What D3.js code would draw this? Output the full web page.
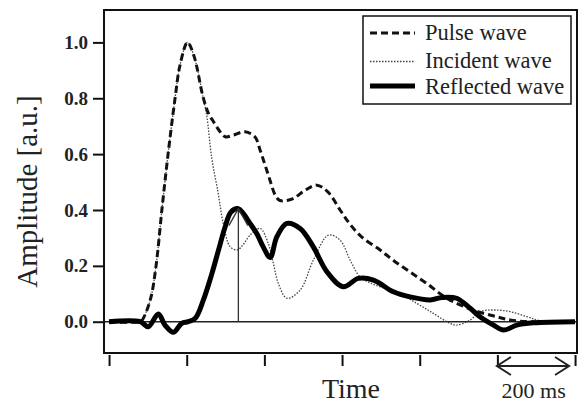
<!DOCTYPE html>
<html lang="en">
<head>
<meta charset="UTF-8">
<title>Pulse wave separation</title>
<script src="https://cdn.jsdelivr.net/npm/d3@7"></script>
<style>
    body{ margin:0; background:#fff; }
    svg{ display:block; font-family:"Liberation Serif","Times New Roman",serif; }
    .frame{ fill:none; stroke:#111; stroke-width:2; }
    .yAxis text{ font-size:19px; font-weight:bold; fill:#222; font-family:"Liberation Serif",serif; }
    .yAxis line, .xAxis line{ stroke:#111; stroke-width:2; }
    .pulse{ fill:none; stroke:#111; stroke-width:3; stroke-dasharray:7,4; }
    .incident{ fill:none; stroke:#444; stroke-width:1.3; stroke-dasharray:1.5,1.5; }
    .reflected{ fill:none; stroke:#000; stroke-width:5; stroke-linejoin:round; }
    .zero{ stroke:#222; stroke-width:1.5; }
    .marker{ fill:none; stroke:#333; stroke-width:1.3; }
</style>
</head>
<body>
<div id="root"></div>
<script>
    // time [ms], amplitude [a.u.]
    const pulseWave = [
        [0,0],[80,0],[85,0.005],[106,0.077],[121,0.2],[136,0.4],[152,0.6],[170,0.8],[183,0.92],
        [202,1.0],[219,0.95],[242,0.805],[256,0.746],[269,0.716],[286,0.68],[299,0.662],[320,0.668],
        [350,0.68],[376,0.661],[389,0.614],[402,0.56],[415,0.504],[428,0.453],[440,0.434],[474,0.441],
        [505,0.471],[535,0.489],[564,0.464],[595,0.4],[620,0.35],[651,0.303],[698,0.257],[731,0.221],
        [775,0.178],[818,0.137],[870,0.084],[937,0.042],[998,0.018],[1033,0.006],[1084,0],[1200,0]
    ]
    const incidentWave = [
        [0,0],[80,0],[85,0.005],[106,0.077],[121,0.2],[136,0.4],[152,0.6],[170,0.8],[183,0.92],
        [202,1.0],[219,0.95],[242,0.805],[252,0.734],[264,0.59],[281,0.46],[294,0.352],[312,0.268],
        [330,0.257],[345,0.275],[363,0.31],[389,0.334],[410,0.28],[423,0.209],[436,0.137],[458,0.084],
        [492,0.113],[526,0.22],[565,0.31],[595,0.292],[621,0.22],[646,0.161],[672,0.139],[698,0.125],
        [732,0.113],[792,0.066],[835,0.03],[878,-0.006],[895,-0.012],[930,0.006],[955,0.036],
        [990,0.042],[1033,0.036],[1076,0.018],[1110,0.004],[1200,0]
    ]
    const reflectedWave = [
        [0,0],[80,0],[101,-0.018],[127,0.028],[144,-0.012],[166,-0.038],[187,-0.006],[204,0],
        [222,0.012],[243,0.078],[265,0.173],[282,0.257],[299,0.34],[314,0.393],[333,0.405],[345,0.389],
        [363,0.352],[381,0.314],[397,0.268],[415,0.23],[432,0.304],[458,0.352],[492,0.334],[526,0.268],
        [561,0.179],[603,0.125],[642,0.155],[681,0.149],[732,0.107],[775,0.089],[827,0.078],[857,0.087],
        [895,0.084],[930,0.048],[955,0.018],[990,-0.012],[1016,-0.03],[1050,-0.012],[1093,-0.004],[1200,0]
    ]
    const yTicks = [0, 0.2, 0.4, 0.6, 0.8, 1.0]
    const xTicks = [0, 200, 400, 600, 800, 1000, 1200]
    const legendNames = ['Pulse wave', 'Incident wave', 'Reflected wave']

    const width = 579, height = 405
    const plotLeft = 104, plotRight = 577, plotTop = 10, plotBottom = 353   // plot frame

    let svg = d3.select('#root').append('svg').attr('width', width).attr('height', height)

    const xScale = d3.scaleLinear().domain([-13, 1205]).range([plotLeft, plotRight])
    const yScale = d3.scaleLinear().domain([-0.112, 1.116]).range([plotBottom, plotTop])

    const line = d3.line()
        .x(d => xScale(d[0]))
        .y(d => yScale(d[1]))
        .curve(d3.curveCatmullRom.alpha(0.5))

    const renderAxes = () => {
        // y axis, ticks outside the frame
        const yAxis = d3.axisLeft(yScale).tickValues(yTicks).tickFormat(d3.format('.1f'))
            .tickSize(11).tickPadding(5)
        svg.append('g').attr('class', 'yAxis')
            .attr('transform', `translate(${plotLeft},0)`)
            .call(yAxis)
            .call(g => g.select('.domain').remove())
            .call(g => g.selectAll('text').attr('font-family', null).attr('font-size', null))

        // x axis: only ticks, a little below the frame
        const xAxis = d3.axisBottom(xScale).tickValues(xTicks).tickFormat('').tickSize(11)
        svg.append('g').attr('class', 'xAxis')
            .attr('transform', `translate(0,${plotBottom + 2})`)
            .call(xAxis)
            .call(g => g.select('.domain').remove())

        svg.append('text')
            .attr('transform', `translate(37,${(plotTop + plotBottom) / 2 + 10}) rotate(-90)`)
            .attr('text-anchor', 'middle')
            .attr('font-size', 29).attr('fill', '#222')
            .text('Amplitude [a.u.]')

        svg.append('text')
            .attr('x', 351).attr('y', 398)
            .attr('text-anchor', 'middle')
            .attr('font-size', 28).attr('fill', '#222')
            .text('Time')
    }

    const renderLines = () => {
        svg.append('line').attr('class', 'zero')
            .attr('x1', plotLeft).attr('x2', plotRight)
            .attr('y1', yScale(0)).attr('y2', yScale(0))

        svg.append('path').datum(incidentWave).attr('class', 'incident').attr('d', line)
        svg.append('path').datum(pulseWave).attr('class', 'pulse').attr('d', line)
        svg.append('path').datum(reflectedWave).attr('class', 'reflected').attr('d', line)

        // arrow to the reflected wave peak
        const peak = reflectedWave.reduce((a, b) => b[1] > a[1] ? b : a)
        const px = xScale(peak[0]), py = yScale(peak[1])
        svg.append('path').attr('class', 'marker')
            .attr('d', `M${px},${yScale(0)}V${py}M${px - 9.5},${py + 17}L${px},${py}L${px + 9.5},${py + 17}`)
    }

    const renderFrame = () => {
        svg.append('rect').attr('class', 'frame')
            .attr('x', plotLeft).attr('y', plotTop)
            .attr('width', plotRight - plotLeft).attr('height', plotBottom - plotTop)
    }

    const renderLegend = () => {
        const g = svg.append('g').attr('transform', 'translate(363,16)')
        g.append('rect').attr('width', 208).attr('height', 88)
            .attr('fill', '#fff').attr('stroke', '#111').attr('stroke-width', 1.5)
        const cls = ['pulse', 'incident', 'reflected']
        const lineY = [17, 45.5, 70]
        const textY = [23.5, 51.5, 78]
        legendNames.forEach((name, i) => {
            g.append('line').attr('class', cls[i])
                .attr('x1', 7).attr('x2', 52).attr('y1', lineY[i]).attr('y2', lineY[i])
            g.append('text').attr('x', 62).attr('y', textY[i])
                .attr('font-size', 22.5).attr('fill', '#222').text(name)
        })
    }

    const renderScaleBar = () => {
        // 200 ms bar between the last two ticks
        const x1 = xScale(1000) - 0.5, x2 = xScale(1200) - 6, y = 366
        svg.append('path').attr('fill', 'none').attr('stroke', '#222').attr('stroke-width', 2)
            .attr('d', `M${x1},${y}H${x2}M${x1 + 14},${y - 9}L${x1},${y}L${x1 + 14},${y + 9}` +
                `M${x2 - 14},${y - 9}L${x2},${y}L${x2 - 14},${y + 9}`)
        svg.append('text').attr('x', 533.7).attr('y', 398)
            .attr('text-anchor', 'middle').attr('font-size', 22).attr('fill', '#222')
            .text('200 ms')
    }

    renderAxes()
    renderLines()
    renderFrame()
    renderLegend()
    renderScaleBar()
</script>
</body>
</html>
